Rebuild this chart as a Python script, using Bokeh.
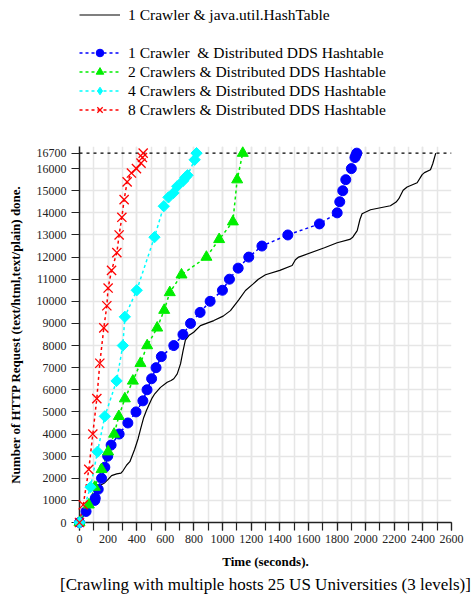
from bokeh.plotting import figure
from bokeh.layouts import column
from bokeh.models import (FixedTicker, SingleIntervalTicker, Legend, LegendItem,
                          Span, Title)
from bokeh.embed import file_html
from bokeh.resources import INLINE
import math

# ---------------- data (time in seconds, requests done) ----------------
java_t = [0, 40, 100, 125, 150, 177, 200, 224, 260, 290, 305, 330, 352, 385, 410,
          430, 449, 467, 484, 505, 526, 566, 613, 640, 659, 683, 706, 724, 740, 764,
          798, 845, 939, 1004, 1055, 1113, 1160, 1214, 1250, 1300, 1400, 1486, 1509,
          1532, 1712, 1801, 1889, 1910, 1941, 1960, 1975, 2034, 2173, 2213, 2232,
          2262, 2290, 2360, 2395, 2411, 2453, 2469, 2490]
java_n = [0, 500, 1250, 1550, 1700, 1800, 1950, 2120, 2200, 2230, 2350, 2600, 2750,
          3300, 3800, 4300, 4750, 5050, 5300, 5600, 5820, 6110, 6340, 6420, 6500,
          6720, 7170, 7770, 8250, 8450, 8600, 8900, 9130, 9330, 9580, 10070, 10490,
          10790, 11000, 11200, 11400, 11620, 11880, 12000, 12420, 12650, 12800,
          12900, 13200, 13700, 13960, 14140, 14320, 14490, 14640, 15020, 15170,
          15360, 15730, 15820, 15950, 16220, 16700]

dds1_t = [0, 46, 107, 110, 131, 154, 177, 197, 221, 277, 338, 395, 443, 472, 504,
          535, 572, 659, 723, 776, 843, 913, 999, 1048, 1109, 1183, 1275, 1456,
          1677, 1801, 1819, 1840, 1861, 1900, 1925, 1932, 1938]
dds1_n = [0, 500, 1000, 1100, 1500, 2000, 2500, 3000, 3500, 4000, 4500, 5000, 5500,
          6000, 6500, 7000, 7500, 8000, 8500, 9000, 9500, 10000, 10500, 11000,
          11500, 12000, 12500, 13000, 13500, 14000, 14500, 15000, 15500, 16000,
          16500, 16600, 16700]

dds2_t = [0, 65, 107, 154, 200, 242, 275, 317, 373, 426, 473, 543, 592, 631, 713,
          887, 976, 1072, 1102, 1141]
dds2_n = [0, 800, 1600, 2400, 3200, 4000, 4800, 5600, 6400, 7200, 8000, 8800, 9600,
          10400, 11200, 12000, 12800, 13600, 15500, 16700]

dds4_t = [0, 77, 126, 177, 259, 303, 317, 400, 524, 589, 622, 657, 683, 725, 740,
          755, 805, 818]
dds4_n = [0, 1600, 3200, 4800, 6400, 8000, 9300, 10500, 12900, 14300, 14700, 14900,
          15200, 15450, 15600, 15700, 16400, 16700]

dds8_t = [0, 26, 65, 93, 121, 142, 170, 191, 200, 224, 261, 277, 296, 312, 333, 363,
          398, 430, 440, 445]
dds8_n = [0, 800, 2400, 4000, 5600, 7200, 8800, 9800, 10600, 11400, 12200, 13000,
          13800, 14600, 15400, 15800, 16000, 16250, 16500, 16700]

total_requests = 16700
y_tick_values = [0, 1000, 2000, 3000, 4000, 5000, 6000, 7000, 8000, 9000, 10000,
                 11000, 12000, 13000, 14000, 15000, 16000, 16700]
y_grid_values = [0, 1000, 2000, 3000, 4000, 5000, 6000, 7000, 8000, 9000, 10000,
                 11000, 12000, 13000, 14000, 15000, 16000, 17000]

labels = ["1 Crawler & java.util.HashTable",
          "1 Crawler  & Distributed DDS Hashtable",
          "2 Crawlers & Distributed DDS Hashtable",
          "4 Crawlers & Distributed DDS Hashtable",
          "8 Crawlers & Distributed DDS Hashtable"]
x_label = "Time (seconds)."
y_label = "Number of HTTP Request (text/html,text/plain) done."
caption = "[Crawling with multiple hosts 25 US Universities (3 levels)]"

FONT = "Liberation Serif"
GRID = "#e6e6e6"
AXIS = "#222222"
DASH = "3 3"
GREEN = "#00ee00"

# series styles: (color, marker, size, angle, line width, legend marker, legend size)
styles = [("blue", "circle", 10, 0, 1, "circle", 10),
          (GREEN, "triangle", 11, 0, 1, "triangle", 11),
          ("cyan", "square", 8, math.pi / 4, 1, "diamond", 13),
          ("red", "x", 13, 0, 1.3, "x", 13)]
series = [(dds1_t, dds1_n), (dds2_t, dds2_n), (dds4_t, dds4_n), (dds8_t, dds8_n)]

# ---------------- main plot ----------------
p = figure(width=474, height=462, x_range=(0, 2600), y_range=(0, 17000),
           output_backend="svg", toolbar_location=None,
           min_border_left=79, min_border_right=23, min_border_top=10,
           min_border_bottom=76)
p.outline_line_color = None

xt = SingleIntervalTicker(interval=200, num_minor_ticks=2)
p.xaxis.ticker = xt
p.xgrid.ticker = xt
p.yaxis.ticker = FixedTicker(ticks=y_tick_values)
p.ygrid.ticker = FixedTicker(ticks=y_grid_values)

for g in (p.xgrid, p.ygrid):
    g.grid_line_color = GRID
    g.grid_line_width = 1.5
p.xgrid.minor_grid_line_color = GRID
p.xgrid.minor_grid_line_width = 1.5

for ax in (p.xaxis, p.yaxis):
    ax.axis_line_color = AXIS
    ax.axis_line_width = 1.5
    ax.major_tick_line_color = AXIS
    ax.major_tick_line_width = 1.2
    ax.major_tick_in = 0
    ax.major_tick_out = 8
    ax.major_label_text_font = FONT
    ax.major_label_text_font_size = "12px"
    ax.major_label_text_color = AXIS
    ax.axis_label_text_font = FONT
    ax.axis_label_text_font_size = "13px"
    ax.axis_label_text_font_style = "bold"
    ax.axis_label_text_color = "black"

p.xaxis.minor_tick_line_color = AXIS
p.xaxis.minor_tick_line_width = 1.2
p.xaxis.minor_tick_in = 0
p.xaxis.minor_tick_out = 8
p.yaxis.minor_tick_line_color = None
p.xaxis.major_label_standoff = 4
p.yaxis.major_label_standoff = 5
p.xaxis.axis_label = x_label
p.yaxis.axis_label = y_label
p.xaxis.axis_label_standoff = 8
p.yaxis.axis_label_standoff = 11

p.add_layout(Span(location=total_requests, dimension="width", line_color="black",
                  line_width=1.2, line_dash="3 4"))

p.line(java_t, java_n, line_color="black", line_width=1.2)
for (xs, ys), st in zip(series, styles):
    p.line(xs, ys, line_color=st[0], line_width=1.5, line_dash=DASH)
for (xs, ys), (col, mk, sz, ang, lw, lmk, lsz) in zip(series, styles):
    p.scatter(xs, ys, marker=mk, size=sz, angle=ang, fill_color=col, line_color=col,
              line_width=lw, level="overlay")

p.add_layout(Title(text=caption, align="center", text_font=FONT,
                   text_font_size="17px", text_font_style="normal",
                   text_color="black", standoff=2), "below")

# ---------------- legend strip (frame aligned with the main plot) ----------------
# legend swatches use hidden copies of the series (visible=False draws nothing here)
lg = figure(width=474, height=136, x_range=(0, 1), y_range=(0, 1),
            output_backend="svg", toolbar_location=None,
            x_axis_location=None, y_axis_location=None, min_border=0)
lg.outline_line_color = None
lg.grid.visible = False

r_java = lg.line(java_t, java_n, line_color="black", line_width=1.2, visible=False)
r_gap = lg.line(java_t, java_n, line_alpha=0, visible=False)
items = [LegendItem(label=labels[0], renderers=[r_java]),
         LegendItem(label=" ", renderers=[r_gap])]
for lab, (xs, ys), (col, mk, sz, ang, lw, lmk, lsz) in zip(labels[1:], series, styles):
    rl = lg.line(xs, ys, line_color=col, line_width=1.5, line_dash=DASH,
                 visible=False)
    rm = lg.scatter(xs, ys, marker=lmk, size=lsz, fill_color=col,
                    line_color=col, line_width=lw, visible=False)
    items.append(LegendItem(label=lab, renderers=[rl, rm]))

legend = Legend(items=items, location=(0, 17), margin=0, padding=0, spacing=0,
                glyph_width=41, glyph_height=19, label_height=19, label_standoff=8,
                label_text_font=FONT, label_text_font_size="15.5px",
                label_text_color="black", background_fill_alpha=0,
                border_line_alpha=0, inactive_fill_alpha=0)
lg.add_layout(legend, "center")

layout = column(lg, p, spacing=0)
open("out.html", "w").write(file_html(layout, INLINE))
